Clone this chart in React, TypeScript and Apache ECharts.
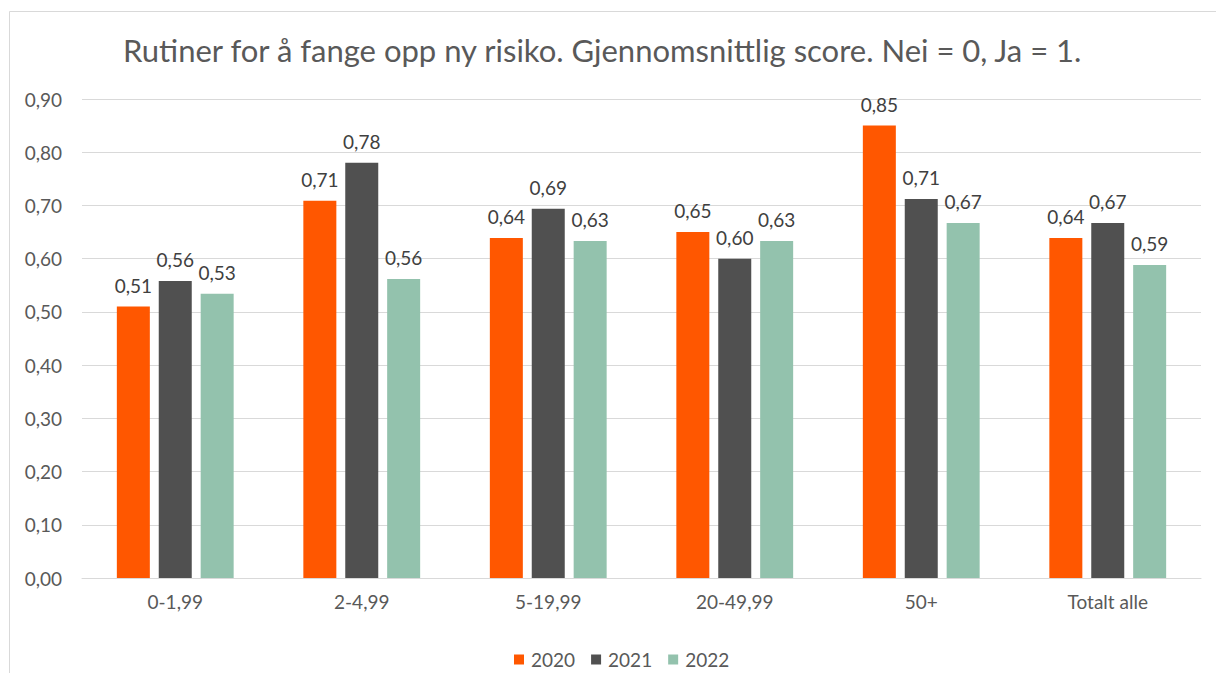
import React, { useEffect, useRef } from "react";
import * as echarts from "echarts";

const categories = ["0-1,99", "2-4,99", "5-19,99", "20-49,99", "50+", "Totalt alle"];
const seriesNames = ["2020", "2021", "2022"];
const values2020 = [0.51, 0.709, 0.639, 0.65, 0.85, 0.639];
const values2021 = [0.558, 0.78, 0.694, 0.6, 0.712, 0.667];
const values2022 = [0.534, 0.562, 0.633, 0.633, 0.667, 0.588];
const colors = ["#FF5700", "#505050", "#93C2AD"];
const titleText = "Rutiner for å fange opp ny risiko. Gjennomsnittlig score. Nei = 0, Ja = 1.";

const fmt = (v: number) => v.toFixed(2).replace(".", ",");
const FONT = "Lato, 'Liberation Sans', sans-serif";

export default function App() {
  const ref = useRef<HTMLDivElement>(null);
  useEffect(() => {
    if (!ref.current) return;
    const chart = echarts.init(ref.current, undefined, { renderer: "svg" });
    const allValues = [values2020, values2021, values2022];
    chart.setOption({
      animation: false,
      backgroundColor: "#ffffff",
      textStyle: { fontFamily: FONT },
      title: {
        text: titleText,
        left: 110,
        top: 21,
        textStyle: { fontFamily: FONT, fontSize: 31, fontWeight: "normal", color: "#595959" },
      },
      graphic: [
        {
          type: "rect",
          shape: { x: 1.5, y: 3.5, width: 3000, height: 3000 },
          style: { fill: "none", stroke: "#d9d9d9", lineWidth: 1 },
          silent: true,
        },
      ],
      legend: {
        data: seriesNames,
        left: 501,
        top: 637,
        itemWidth: 10,
        itemHeight: 10,
        itemGap: 16,
        icon: "rect",
        textStyle: { fontFamily: FONT, fontSize: 19, color: "#595959", padding: [0, 0, 0, 2] },
      },
      grid: { left: 74, right: 23, top: 91, bottom: 95, containLabel: false },
      xAxis: {
        type: "category",
        data: categories,
        axisLine: { lineStyle: { color: "#d9d9d9", width: 1 } },
        axisTick: { show: false },
        axisLabel: { fontFamily: FONT, fontSize: 19, color: "#595959", margin: 14 },
      },
      yAxis: {
        type: "value",
        min: 0,
        max: 0.9,
        interval: 0.1,
        axisLine: { show: false },
        axisTick: { show: false },
        splitLine: { lineStyle: { color: "#d9d9d9", width: 1 } },
        axisLabel: {
          fontFamily: FONT,
          fontSize: 19,
          color: "#595959",
          margin: 20,
          formatter: (v: number) => fmt(v),
        },
      },
      series: seriesNames.map((name, i) => ({
        name,
        type: "bar",
        data: allValues[i],
        barWidth: 33,
        barGap: "27%",
        itemStyle: { color: colors[i] },
        label: {
          show: true,
          position: "top",
          distance: 12,
          fontFamily: FONT,
          fontSize: 19,
          color: "#404040",
          formatter: (p: any) => fmt(p.value),
        },
      })),
    });
    return () => chart.dispose();
  }, []);
  return <div ref={ref} style={{ width: 1216, height: 665 }} />;
}
